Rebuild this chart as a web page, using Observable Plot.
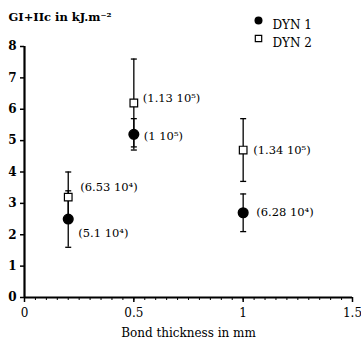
<!DOCTYPE html>
<html>
<head>
<meta charset="utf-8">
<script src="https://cdn.jsdelivr.net/npm/d3@7"></script>
<script src="https://cdn.jsdelivr.net/npm/@observablehq/plot@0.6"></script>
<style>
  html, body { margin: 0; padding: 0; background: #fff; }
  #chart svg { display: block; }
</style>
</head>
<body>
<div id="chart"></div>
<script>
// ---- data ----
const thickness = [0.2, 0.5, 1.0];
const dyn1 = [2.5, 5.2, 2.7];
const dyn1Lo = [1.6, 4.7, 2.1];
const dyn1Hi = [3.4, 5.7, 3.3];
const dyn2 = [3.2, 6.2, 4.7];
const dyn2Lo = [2.4, 4.8, 3.7];
const dyn2Hi = [4.0, 7.6, 5.7];
const dyn1Labels = ["(5.1 10\u2074)", "(1 10\u2075)", "(6.28 10\u2074)"];
const dyn2Labels = ["(6.53 10\u2074)", "(1.13 10\u2075)", "(1.34 10\u2075)"];
const seriesNames = ["DYN 1", "DYN 2"];
const yTicks = [0, 1, 2, 3, 4, 5, 6, 7, 8];
const xTicks = [0, 0.5, 1, 1.5];
const titleText = "GI+IIc in kJ.m\u207B\u00B2";
const xLabel = "Bond thickness in mm";

// ---- tables ----
const rows1 = thickness.map((x, i) => ({x, y: dyn1[i], lo: dyn1Lo[i], hi: dyn1Hi[i], label: dyn1Labels[i]}));
const rows2 = thickness.map((x, i) => ({x, y: dyn2[i], lo: dyn2Lo[i], hi: dyn2Hi[i], label: dyn2Labels[i]}));
const allRows = rows1.concat(rows2);

// label offsets (style, px)
const off1 = [[10, 14], [10, 2], [13, 0]];
const off2 = [[12, -10], [9, -5], [10, 0]];

const cap = {draw(ctx, size) { const w = Math.sqrt(size / Math.PI); ctx.moveTo(-w, 0); ctx.lineTo(w, 0); }};
const serif = "'DejaVu Serif', 'Liberation Serif', serif";

const plot = Plot.plot({
  width: 361,
  height: 345,
  marginLeft: 24,
  marginRight: 9,
  marginTop: 46,
  marginBottom: 48,
  style: {fontFamily: serif, fontSize: "12px", color: "black", background: "white"},
  x: {domain: [0, 1.5]},
  y: {domain: [0, 8]},
  marks: [
    Plot.axisX({ticks: d3.range(0, 1.5001, 0.05), tickSize: 3, text: null, label: null, strokeWidth: 1}),
    Plot.axisX({ticks: xTicks, tickSize: 5, tickPadding: 6, tickFormat: d => String(d), label: null, strokeWidth: 1.5, fontSize: 12}),
    Plot.axisY({ticks: yTicks, tickSize: 4, tickPadding: 4, label: null, fontWeight: "bold", fontSize: 12, strokeWidth: 1.5}),
    Plot.ruleY([0], {strokeWidth: 2.2}),
    Plot.ruleX([0], {strokeWidth: 2.2}),
    // error bars
    Plot.ruleX(allRows, {x: "x", y1: "lo", y2: "hi", strokeWidth: 1.3}),
    Plot.dot(allRows, {x: "x", y: "lo", symbol: cap, r: 3, stroke: "black", strokeWidth: 1.3}),
    Plot.dot(allRows, {x: "x", y: "hi", symbol: cap, r: 3, stroke: "black", strokeWidth: 1.3}),
    // points
    Plot.dot(rows1, {x: "x", y: "y", r: 4.8, fill: "black", stroke: "black"}),
    Plot.dot(rows2, {x: "x", y: "y", symbol: "square", r: 4.3, fill: "white", stroke: "black", strokeWidth: 1.2}),
    // value labels
    ...rows1.map((d, i) => Plot.text([d], {x: "x", y: "y", text: "label", textAnchor: "start", dx: off1[i][0], dy: off1[i][1], fontSize: 11.5, fill: "black"})),
    ...rows2.map((d, i) => Plot.text([d], {x: "x", y: "y", text: "label", textAnchor: "start", dx: off2[i][0], dy: off2[i][1], fontSize: 11.5, fill: "black"})),
    // title & axis label
    Plot.text([titleText], {frameAnchor: "top-left", dx: -16, dy: -34, textAnchor: "start", fontWeight: "bold", fontSize: 11.5}),
    Plot.text([xLabel], {frameAnchor: "bottom", dy: 39, fontSize: 12}),
    // legend
    Plot.dot([seriesNames[0]], {frameAnchor: "top-right", dx: -94, dy: -26, r: 4, fill: "black"}),
    Plot.dot([seriesNames[1]], {frameAnchor: "top-right", dx: -94, dy: -8, symbol: "square", r: 3.6, fill: "white", stroke: "black", strokeWidth: 1.2}),
    Plot.text([seriesNames[0]], {frameAnchor: "top-right", dx: -80, dy: -26, text: d => d, textAnchor: "start", fontSize: 12}),
    Plot.text([seriesNames[1]], {frameAnchor: "top-right", dx: -80, dy: -8, text: d => d, textAnchor: "start", fontSize: 12})
  ]
});
document.getElementById("chart").appendChild(plot);
</script>
</body>
</html>
